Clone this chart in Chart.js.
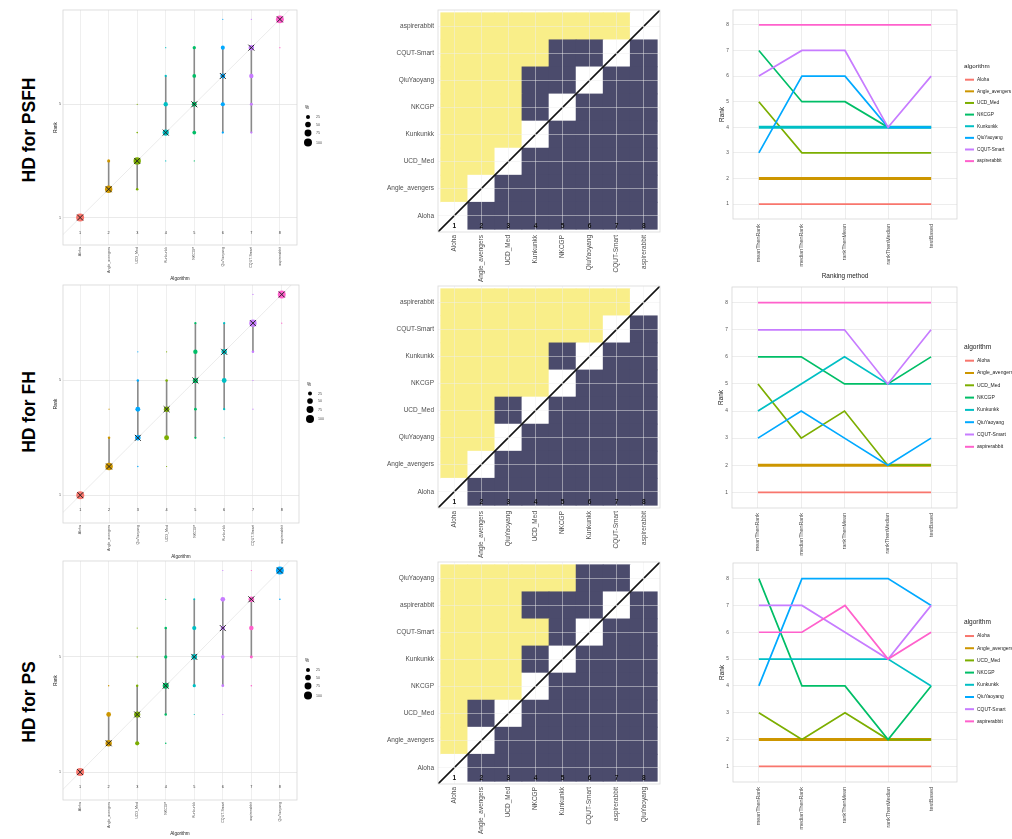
<!DOCTYPE html>
<html>
<head>
<meta charset="utf-8">
<script src="https://cdn.jsdelivr.net/npm/chart.js@4.4.1/dist/chart.umd.min.js"></script>
<style>
  html, body { margin: 0; padding: 0; background: #ffffff; }
  body { width: 1012px; height: 839px; position: relative; overflow: hidden;
         font-family: 'Liberation Sans', Arial, sans-serif; }
  canvas { position: absolute; }
  .task-label { position: absolute; font-weight: bold; font-size: 19px; line-height: 1;
                white-space: nowrap; color: #000;
                transform: translate(-50%, -50%) rotate(-90deg) scaleX(0.92); }
</style>
</head>
<body>
<script>
// ---------------- data ----------------
const taskNames = ['HD for PSFH', 'HD for FH', 'HD for PS'];

const legendOrder = ['Aloha', 'Angle_avengers', 'UCD_Med', 'NKCGP', 'Kunkunkk', 'QiuYaoyang', 'CQUT-Smart', 'aspirerabbit'];
const rankingMethods = ['meanThenRank', 'medianThenRank', 'rankThenMean', 'rankThenMedian', 'testBased'];
const sizeLevels = [25, 50, 75, 100];

// algorithms ordered by consensus rank, per task
const psfhOrder = ['Aloha', 'Angle_avengers', 'UCD_Med', 'Kunkunkk', 'NKCGP', 'QiuYaoyang', 'CQUT-Smart', 'aspirerabbit'];
const fhOrder   = ['Aloha', 'Angle_avengers', 'QiuYaoyang', 'UCD_Med', 'NKCGP', 'Kunkunkk', 'CQUT-Smart', 'aspirerabbit'];
const psOrder   = ['Aloha', 'Angle_avengers', 'UCD_Med', 'NKCGP', 'Kunkunkk', 'CQUT-Smart', 'aspirerabbit', 'QiuYaoyang'];

// bootstrap rank distribution: [rank, % of samples] per algorithm
const psfhBlobs = [
  [[1, 100]],
  [[2, 85], [3, 15]],
  [[2, 10], [3, 85], [4, 4], [5, 1]],
  [[3, 1], [4, 60], [5, 30], [6, 8], [7, 1]],
  [[3, 1], [4, 22], [5, 38], [6, 22], [7, 17]],
  [[4, 8], [5, 27], [6, 38], [7, 26], [8, 1]],
  [[4, 8], [5, 14], [6, 30], [7, 46], [8, 2]],
  [[7, 2], [8, 98]]
];
const fhBlobs = [
  [[1, 100]],
  [[2, 88], [3, 10], [4, 2]],
  [[2, 3], [3, 48], [4, 38], [5, 9], [6, 2]],
  [[2, 2], [3, 38], [4, 48], [5, 10], [6, 2]],
  [[3, 8], [4, 12], [5, 42], [6, 30], [7, 8]],
  [[3, 2], [4, 8], [5, 36], [6, 46], [7, 8]],
  [[4, 1], [5, 2], [6, 10], [7, 85], [8, 2]],
  [[7, 2], [8, 98]]
];
const psBlobs = [
  [[1, 100]],
  [[2, 62], [3, 35], [4, 3]],
  [[2, 28], [3, 60], [4, 9], [5, 2], [6, 1]],
  [[2, 4], [3, 10], [4, 58], [5, 16], [6, 10], [7, 2]],
  [[3, 2], [4, 16], [5, 48], [6, 28], [7, 6]],
  [[3, 2], [4, 12], [5, 20], [6, 30], [7, 34], [8, 2]],
  [[4, 4], [5, 14], [6, 32], [7, 48], [8, 2]],
  [[7, 4], [8, 96]]
];

// consensus rank and 95% rank interval per algorithm
const psfhRank = [1, 2, 3, 4, 5, 6, 7, 8];
const psfhCiLow = [1, 2, 2, 4, 4, 4, 4, 8];
const psfhCiHigh = [1, 3, 3, 6, 7, 7, 7, 8];
const fhRank = [1, 2, 3, 4, 5, 6, 7, 8];
const fhCiLow = [1, 2, 3, 3, 3, 4, 6, 8];
const fhCiHigh = [1, 3, 5, 5, 7, 7, 7, 8];
const psRank = [1, 2, 3, 4, 5, 6, 7, 8];
const psCiLow = [1, 2, 2, 3, 4, 4, 5, 8];
const psCiHigh = [1, 3, 4, 6, 7, 7, 7, 8];

// pairwise significance, rows from rank 1 (bottom) upward:
// '1' = row algorithm significantly worse than column algorithm, '0' = not, '-' = same algorithm
const psfhSignif = ['-0000000', '1-000000', '11-00000', '111-0000', '1110-000', '11100-00', '111100-0', '1111111-'];
const fhSignif   = ['-0000000', '1-000000', '11-00000', '110-0000', '1111-000', '11110-00', '111111-0', '1111111-'];
const psSignif   = ['-0000000', '1-000000', '10-00000', '111-0000', '1110-000', '11110-00', '111000-0', '1111100-'];

// rank of each algorithm (legendOrder) under each ranking method
const psfhMethodRanks = [
  [1, 1, 1, 1, 1], [2, 2, 2, 2, 2], [5, 3, 3, 3, 3], [7, 5, 5, 4, 4],
  [4, 4, 4, 4, 4], [3, 6, 6, 4, 4], [6, 7, 7, 4, 6], [8, 8, 8, 8, 8]
];
const fhMethodRanks = [
  [1, 1, 1, 1, 1], [2, 2, 2, 2, 2], [5, 3, 4, 2, 2], [6, 6, 5, 5, 6],
  [4, 5, 6, 5, 5], [3, 4, 3, 2, 3], [7, 7, 7, 5, 7], [8, 8, 8, 8, 8]
];
const psMethodRanks = [
  [1, 1, 1, 1, 1], [2, 2, 2, 2, 2], [3, 2, 3, 2, 2], [8, 4, 4, 2, 4],
  [5, 5, 5, 5, 4], [4, 8, 8, 8, 7], [7, 7, 6, 5, 7], [6, 6, 7, 5, 6]
];

// ---------------- styling & layout ----------------
const FONT = "'Liberation Sans', Arial, sans-serif";
Chart.defaults.font.family = FONT;

const palette = {
  'Aloha': '#F8766D', 'Angle_avengers': '#CD9600', 'UCD_Med': '#7CAE00', 'NKCGP': '#00BE67',
  'Kunkunkk': '#00BFC4', 'QiuYaoyang': '#00A9FF', 'CQUT-Smart': '#C77CFF', 'aspirerabbit': '#FF61CC'
};
const sigYellow = '#F9EE89';
const sigNavy = '#4B4B6C';
const thickLines = [['Angle_avengers', 'Kunkunkk'], ['Angle_avengers'], ['Angle_avengers']];

const labelCenterY = [130, 412, 702];
const blobRects = [{x: 63, y: 10, w: 234, h: 235}, {x: 63, y: 285, w: 236, h: 238}, {x: 63, y: 561, w: 234, h: 239}];
const sigRects  = [{x: 438, y: 10, w: 222, h: 222}, {x: 438, y: 286, w: 222, h: 222}, {x: 438, y: 562, w: 222, h: 222}];
const lineRects = [{x: 733, y: 10, w: 224, h: 209}, {x: 732, y: 287, w: 225, h: 221}, {x: 733, y: 563, w: 224, h: 219}];

const tasks = [
  {order: psfhOrder, blobs: psfhBlobs, rank: psfhRank, ciLow: psfhCiLow, ciHigh: psfhCiHigh, signif: psfhSignif, methodRanks: psfhMethodRanks},
  {order: fhOrder,   blobs: fhBlobs,   rank: fhRank,   ciLow: fhCiLow,   ciHigh: fhCiHigh,   signif: fhSignif,   methodRanks: fhMethodRanks},
  {order: psOrder,   blobs: psBlobs,   rank: psRank,   ciLow: psCiLow,   ciHigh: psCiHigh,   signif: psSignif,   methodRanks: psMethodRanks}
];

function bubbleRadius(pct) { return Math.max(0.6, 4 * Math.sqrt(pct / 100)); }

function makeCanvas(rect, m) {
  const c = document.createElement('canvas');
  const w = rect.w + m.l + m.r, h = rect.h + m.t + m.b;
  c.width = w; c.height = h;
  c.style.left = (rect.x - m.l) + 'px';
  c.style.top = (rect.y - m.t) + 'px';
  c.style.width = w + 'px';
  c.style.height = h + 'px';
  document.body.appendChild(c);
  return c;
}

const baseOptions = () => ({
  responsive: false, animation: false, events: [], devicePixelRatio: 1,
  plugins: {legend: {display: false}, tooltip: {enabled: false}}
});

// outline of the plotting panel
const panelFrame = {
  id: 'panelFrame',
  afterDraw(chart, args, opts) {
    const {ctx, chartArea: a} = chart;
    ctx.save();
    ctx.strokeStyle = opts.color || '#D3D3D3';
    ctx.lineWidth = opts.width || 0.8;
    ctx.strokeRect(a.left, a.top, a.right - a.left, a.bottom - a.top);
    ctx.restore();
  }
};

// rank numbers along the bottom of the blob panel and the size key
const blobExtras = {
  id: 'blobExtras',
  afterDraw(chart) {
    const {ctx, chartArea: a, scales: {x, y}} = chart;
    const n = chart.options.plugins.blobExtras.count;
    ctx.save();
    ctx.textAlign = 'center'; ctx.textBaseline = 'middle';
    ctx.fillStyle = '#333333';
    ctx.font = `3.8px ${FONT}`;
    for (let i = 1; i <= n; i++) ctx.fillText(String(i), x.getPixelForValue(i), y.getPixelForValue(0.47));
    const cy = (a.top + a.bottom) / 2, rx = a.right;
    ctx.textAlign = 'left';
    ctx.fillStyle = '#1a1a1a';
    ctx.font = `4.6px ${FONT}`;
    ctx.fillText('%', rx + 8, cy - 19.5);
    const offs = [-10.5, -3, 5.5, 15];
    sizeLevels.forEach((p, i) => {
      ctx.beginPath();
      ctx.arc(rx + 11, cy + offs[i], bubbleRadius(p), 0, Math.PI * 2);
      ctx.fillStyle = '#000000';
      ctx.fill();
      ctx.fillStyle = '#4D4D4D';
      ctx.font = `3.6px ${FONT}`;
      ctx.fillText(String(p), rx + 19, cy + offs[i]);
    });
    ctx.restore();
  }
};

// rank numbers in the bottom row of the significance map
const sigExtras = {
  id: 'sigExtras',
  afterDraw(chart) {
    const {ctx, scales: {x, y}} = chart;
    ctx.save();
    ctx.textAlign = 'center'; ctx.textBaseline = 'middle';
    ctx.fillStyle = '#111111';
    ctx.font = `bold 6.6px ${FONT}`;
    for (let i = 1; i <= 8; i++) ctx.fillText(String(i), x.getPixelForValue(i), y.getPixelForValue(0.63));
    ctx.restore();
  }
};

// colour key for the ranking-robustness lines
const rankLegend = {
  id: 'rankLegend',
  afterDraw(chart, args, opts) {
    const {ctx, chartArea: a} = chart;
    const k = opts.scale;
    const cy = (a.top + a.bottom) / 2, x0 = a.right + 8;
    ctx.save();
    ctx.textAlign = 'left'; ctx.textBaseline = 'middle';
    ctx.fillStyle = '#1a1a1a';
    ctx.font = `${6.6 * k}px ${FONT}`;
    ctx.fillText('algorithm', x0 - 1, cy - 50.8 * k);
    chart.data.datasets.forEach((ds, i) => {
      const yy = cy - 36.8 * k + i * 12.3 * k;
      ctx.strokeStyle = ds.borderColor;
      ctx.lineWidth = 2;
      ctx.beginPath(); ctx.moveTo(x0, yy); ctx.lineTo(x0 + 9, yy); ctx.stroke();
      ctx.fillStyle = '#1a1a1a';
      ctx.font = `${5 * k}px ${FONT}`;
      ctx.fillText(ds.label, x0 + 12, yy);
    });
    ctx.restore();
  }
};

// ---------------- blob plot of bootstrap rankings ----------------
function blobChart(task, rect) {
  const m = {l: 23, r: 50, t: 10, b: 40};
  const canvas = makeCanvas(rect, m);
  const n = task.order.length;

  const ci = [];
  task.order.forEach((name, i) => {
    if (task.ciHigh[i] > task.ciLow[i]) {
      ci.push({x: i + 1, y: task.ciLow[i]}, {x: i + 1, y: task.ciHigh[i]}, {x: i + 1, y: null});
    }
  });
  const pts = [], cols = [];
  task.blobs.forEach((list, i) => list.forEach(([rank, pct]) => {
    pts.push({x: i + 1, y: rank, r: bubbleRadius(pct)});
    cols.push(palette[task.order[i]]);
  }));

  const opts = baseOptions();
  opts.layout = {padding: {left: 0, top: m.t, right: m.r, bottom: 0}};
  opts.plugins.panelFrame = {color: '#D6D6D6', width: 0.8};
  opts.plugins.blobExtras = {count: n};
  opts.scales = {
    x: {
      type: 'linear', min: 0.4, max: n + 0.6, offset: false,
      afterBuildTicks: s => { s.ticks = task.order.map((_, i) => ({value: i + 1})); },
      afterFit: s => { s.height = m.b; },
      ticks: {callback: v => task.order[Math.round(v) - 1], autoSkip: false, maxRotation: 90, minRotation: 90,
              font: {size: 3.6}, color: '#4D4D4D', padding: 2},
      grid: {color: '#EBEBEB', lineWidth: 0.8, drawTicks: false},
      border: {display: false},
      title: {display: true, text: 'Algorithm', font: {size: 4.6}, color: '#222222', padding: {top: 0, bottom: 3.2}}
    },
    y: {
      type: 'linear', min: 0.03, max: 8.33,
      afterBuildTicks: s => { s.ticks = [{value: 1}, {value: 5}]; },
      afterFit: s => { s.width = m.l; },
      ticks: {font: {size: 3.6}, color: '#4D4D4D', padding: 2},
      grid: {color: '#E4E4E4', lineWidth: 0.8, drawTicks: false},
      border: {display: false},
      title: {display: true, text: 'Rank', font: {size: 4.6}, color: '#222222', padding: {top: 12.8, bottom: 0}}
    }
  };

  new Chart(canvas, {
    type: 'bubble',
    data: {
      datasets: [
        {type: 'line', data: [{x: -1, y: -1}, {x: 10, y: 10}], borderColor: '#DDDDDD', borderWidth: 0.6,
         pointRadius: 0, order: 4},
        {type: 'line', data: ci, borderColor: '#8A8A8A', borderWidth: 1.6, pointRadius: 0, spanGaps: false, order: 3},
        {type: 'bubble', data: pts, backgroundColor: cols, borderColor: cols, borderWidth: 0, order: 2},
        {type: 'scatter', data: task.rank.map((v, i) => ({x: i + 1, y: v})), pointStyle: 'crossRot', pointRadius: 4.2,
         borderColor: '#262626', backgroundColor: 'rgba(0,0,0,0)', borderWidth: 1, order: 1}
      ]
    },
    options: opts,
    plugins: [panelFrame, blobExtras]
  });
}

// ---------------- significance map ----------------
function sigChart(task, rect) {
  const m = {l: 78, r: 20, t: 10, b: 52};
  const canvas = makeCanvas(rect, m);
  const n = task.order.length;
  const datasets = task.signif.map((row, ri) => {
    const r = ri + 1;
    const data = [], colors = [];
    for (let c = 1; c <= n; c++) {
      data.push({x: c, y: [r - 0.5, r + 0.5]});
      const ch = row[c - 1];
      colors.push(ch === '-' ? '#FFFFFF' : (ch === '1' ? sigYellow : sigNavy));
    }
    return {type: 'bar', data, backgroundColor: colors, borderWidth: 0, barPercentage: 1,
            categoryPercentage: 1, grouped: false, order: 2};
  });
  datasets.push({type: 'line', data: [{x: 0.4, y: 0.4}, {x: n + 0.6, y: n + 0.6}], borderColor: '#141414',
                 borderWidth: 1.6, pointRadius: 0, order: 0});

  const opts = baseOptions();
  opts.layout = {padding: {left: 0, top: m.t, right: m.r, bottom: 0}};
  opts.plugins.panelFrame = {color: '#D9D9D9', width: 0.8};
  const gridStyle = {color: 'rgba(238,238,238,0.6)', lineWidth: 0.8, drawTicks: false, z: 1, offset: false};
  opts.scales = {
    x: {
      type: 'linear', min: 0.4, max: n + 0.6, offset: false,
      afterBuildTicks: s => { s.ticks = task.order.map((_, i) => ({value: i + 1})); },
      afterFit: s => { s.height = m.b; },
      ticks: {callback: v => task.order[Math.round(v) - 1], autoSkip: false, maxRotation: 90, minRotation: 90,
              font: {size: 6.5}, color: '#4D4D4D', padding: 3},
      grid: gridStyle, border: {display: false}
    },
    y: {
      type: 'linear', min: 0.4, max: n + 0.6,
      afterBuildTicks: s => { s.ticks = task.order.map((_, i) => ({value: i + 1})); },
      afterFit: s => { s.width = m.l; },
      ticks: {callback: v => task.order[Math.round(v) - 1], autoSkip: false, font: {size: 6.5}, color: '#4D4D4D', padding: 4},
      grid: gridStyle, border: {display: false}
    }
  };

  new Chart(canvas, {type: 'bar', data: {datasets}, options: opts, plugins: [panelFrame, sigExtras]});
}

// ---------------- rank stability across ranking methods ----------------
function methodChart(task, rect, thick, showTitle) {
  const m = {l: 18, r: 55, t: 10, b: 62};
  const canvas = makeCanvas(rect, m);
  const datasets = legendOrder.map((name, i) => ({
    type: 'line', label: name,
    data: task.methodRanks[i].map((v, k) => ({x: k + 1, y: v})),
    borderColor: palette[name], backgroundColor: palette[name],
    borderWidth: thick.includes(name) ? 3 : 1.7,
    pointRadius: 0, tension: 0, order: -i
  }));

  const opts = baseOptions();
  opts.layout = {padding: {left: 0, top: m.t, right: m.r, bottom: 0}};
  opts.plugins.panelFrame = {color: '#D6D6D6', width: 0.8};
  opts.plugins.rankLegend = {scale: rect.h / 221};
  opts.scales = {
    x: {
      type: 'linear', min: 0.4, max: rankingMethods.length + 0.6, offset: false,
      afterBuildTicks: s => { s.ticks = rankingMethods.map((_, i) => ({value: i + 1})); },
      afterFit: s => { s.height = m.b; },
      ticks: {callback: v => rankingMethods[Math.round(v) - 1], autoSkip: false, maxRotation: 90, minRotation: 90,
              font: {size: 5.4}, color: '#4D4D4D', padding: 5},
      grid: {color: '#EBEBEB', lineWidth: 0.9, drawTicks: false},
      border: {display: false},
      title: {display: showTitle, text: 'Ranking method', font: {size: 6.4}, color: '#222222', padding: {top: 0, bottom: 1.2}}
    },
    y: {
      type: 'linear', min: 0.42, max: 8.58,
      afterBuildTicks: s => { s.ticks = [1, 2, 3, 4, 5, 6, 7, 8].map(v => ({value: v})); },
      afterFit: s => { s.width = m.l; },
      ticks: {font: {size: 4.8}, color: '#4D4D4D', padding: 4},
      grid: {color: '#EBEBEB', lineWidth: 0.9, drawTicks: false},
      border: {display: false},
      title: {display: true, text: 'Rank', font: {size: 6.4}, color: '#222222', padding: {top: 3.8, bottom: 0}}
    }
  };

  new Chart(canvas, {type: 'line', data: {datasets}, options: opts, plugins: [panelFrame, rankLegend]});
}

// ---------------- assemble ----------------
tasks.forEach((task, i) => {
  const lab = document.createElement('div');
  lab.className = 'task-label';
  lab.textContent = taskNames[i];
  lab.style.left = '28px';
  lab.style.top = labelCenterY[i] + 'px';
  document.body.appendChild(lab);

  blobChart(task, blobRects[i]);
  sigChart(task, sigRects[i]);
  methodChart(task, lineRects[i], thickLines[i], i === 0);
});
</script>
</body>
</html>
